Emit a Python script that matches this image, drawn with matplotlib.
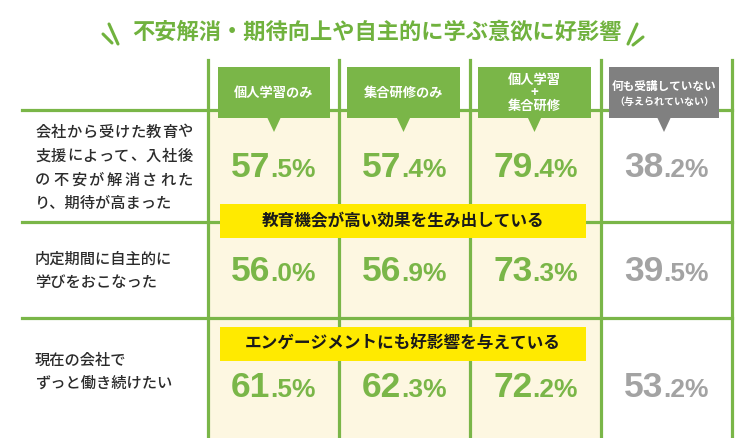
import matplotlib
matplotlib.use('Agg')
import matplotlib.pyplot as plt
from matplotlib.patches import Rectangle, Polygon

plt.rcParams['font.family'] = ['Noto Sans CJK JP', 'DejaVu Sans']

# data
title = '不安解消・期待向上や自主的に学ぶ意欲に好影響'
col_labels = [['個人学習のみ'], ['集合研修のみ'], ['個人学習', '+', '集合研修'],
              ['何も受講していない', '（与えられていない）']]
row_labels = [['会社から受けた教育や', '支援によって、入社後', 'の不安が解消された', 'り、期待が高まった'],
              ['内定期間に自主的に', '学びをおこなった'],
              ['現在の会社で', 'ずっと働き続けたい']]
values = [[57.5, 57.4, 79.4, 38.2],
          [56.0, 56.9, 73.3, 39.5],
          [61.5, 62.3, 72.2, 53.2]]
banners = ['教育機会が高い効果を生み出している', 'エンゲージメントにも好影響を与えている']

# colours
green = '#7ab648'
title_green = '#70b23e'
gray_box = '#808080'
gray_num = '#a3a3a3'
cream = '#fdf7e1'
yellow = '#ffea00'
ink = '#2b2b2b'

# layout (pixel coordinates)
col_x = [208, 339, 470, 601, 732]
hline_y = [110, 222, 318]
box_x = [(218, 330), (347, 460), (478, 591), (609, 719)]
box_top, box_bot = 67, 118
num_base = [177, 281, 397]
label_y = [[132, 156, 180, 203], [259, 283], [360, 383]]
justify = [[True, True, True, False], [False, False], [False, False]]
banner_y = [(204, 238), (327, 361)]
banner_x = (220, 586)

fig = plt.figure(figsize=(7.5, 4.38), dpi=100)
ax = fig.add_axes([0, 0, 1, 1])
ax.set_xlim(0, 750)
ax.set_ylim(438, 0)
ax.axis('off')

# title with little accent strokes
ax.text(377, 32, title, ha='center', va='center', fontsize=16,
        fontweight='bold', color=title_green)
for (x0, y0, x1, y1) in [(103, 34, 112, 43), (109, 24, 118, 44),
                         (628, 44, 637, 24), (633, 45, 643, 37)]:
    ax.plot([x0, x1], [y0, y1], color=title_green, lw=2.2,
            solid_capstyle='round')

# cream background for the three training columns
ax.add_patch(Rectangle((col_x[0], hline_y[0]), col_x[3] - col_x[0],
                       438 - hline_y[0], color=cream, lw=0, zorder=0))

# grid
for y in hline_y:
    ax.plot([22, col_x[-1]], [y, y], color=green, lw=2.3, zorder=1)
for x in col_x:
    ax.plot([x, x], [60, 438], color=green, lw=2.3, zorder=1)

# header boxes
for j, (lab, (x0, x1)) in enumerate(zip(col_labels, box_x)):
    fc = gray_box if j == 3 else green
    cx = (x0 + x1) / 2
    ax.add_patch(Rectangle((x0, box_top), x1 - x0, box_bot - box_top,
                           color=fc, lw=0, zorder=2))
    ax.add_patch(Polygon([(cx - 7, box_bot - 1), (cx + 7, box_bot - 1),
                          (cx, box_bot + 14)], closed=True, color=fc,
                         lw=0, zorder=2))
    if len(lab) == 1:
        ax.text(cx, 93, lab[0], ha='center', va='center', fontsize=9.5,
                fontweight='bold', color='white', zorder=3)
    elif len(lab) == 3:
        for t, y in zip(lab, [80, 93, 106]):
            ax.text(cx, y, t, ha='center', va='center', fontsize=9.5,
                    fontweight='bold', color='white', zorder=3)
    else:
        ax.text(cx, 86, lab[0], ha='center', va='center', fontsize=8.4,
                fontweight='bold', color='white', zorder=3)
        ax.text(cx, 102, lab[1], ha='center', va='center', fontsize=7.2,
                fontweight='bold', color='white', zorder=3)

# row labels
lab_x0, lab_x1 = 35, 193
for lines, ys, just in zip(row_labels, label_y, justify):
    for line, y, jf in zip(lines, ys, just):
        if jf:
            n = len(line)
            step = (lab_x1 - lab_x0 - 15.5) / (n - 1)
            for k, ch in enumerate(line):
                ax.text(lab_x0 + 7.75 + k * step, y, ch, ha='center',
                        va='center', fontsize=11, fontweight='medium',
                        color=ink)
        else:
            ax.text(lab_x0, y, line, ha='left', va='center', fontsize=11,
                    fontweight='medium', color=ink)

# yellow banners
for txt, (y0, y1) in zip(banners, banner_y):
    ax.add_patch(Rectangle((banner_x[0], y0), banner_x[1] - banner_x[0],
                           y1 - y0, color=yellow, lw=0, zorder=4))
    ax.text((banner_x[0] + banner_x[1]) / 2, (y0 + y1) / 2, txt,
            ha='center', va='center', fontsize=12, fontweight='bold',
            color='#1a1a1a', zorder=5)

# percentages: big integer part, smaller decimal part
nums = []
for i, row in enumerate(values):
    for j, v in enumerate(row):
        cx = (col_x[j] + col_x[j + 1]) / 2
        c = gray_num if j == 3 else green
        s = '{:.1f}'.format(v)
        ip, dp = s.split('.')
        ti = ax.text(cx, num_base[i], ip, ha='right', va='baseline',
                     fontsize=25.5, fontweight='bold', color=c,
                     family='Liberation Sans', zorder=3)
        td = ax.text(cx, num_base[i], '.' + dp + '%', ha='left',
                     va='baseline', fontsize=19, fontweight='bold', color=c,
                     family='Liberation Sans', zorder=3)
        nums.append((ti, td, cx))

fig.canvas.draw()
r = fig.canvas.get_renderer()
for ti, td, cx in nums:
    wi = ti.get_window_extent(r).width
    wd = td.get_window_extent(r).width
    left = cx - (wi + wd) / 2
    ti.set_x(left + wi)
    td.set_x(left + wi)

fig.savefig('out.png', dpi=100)
